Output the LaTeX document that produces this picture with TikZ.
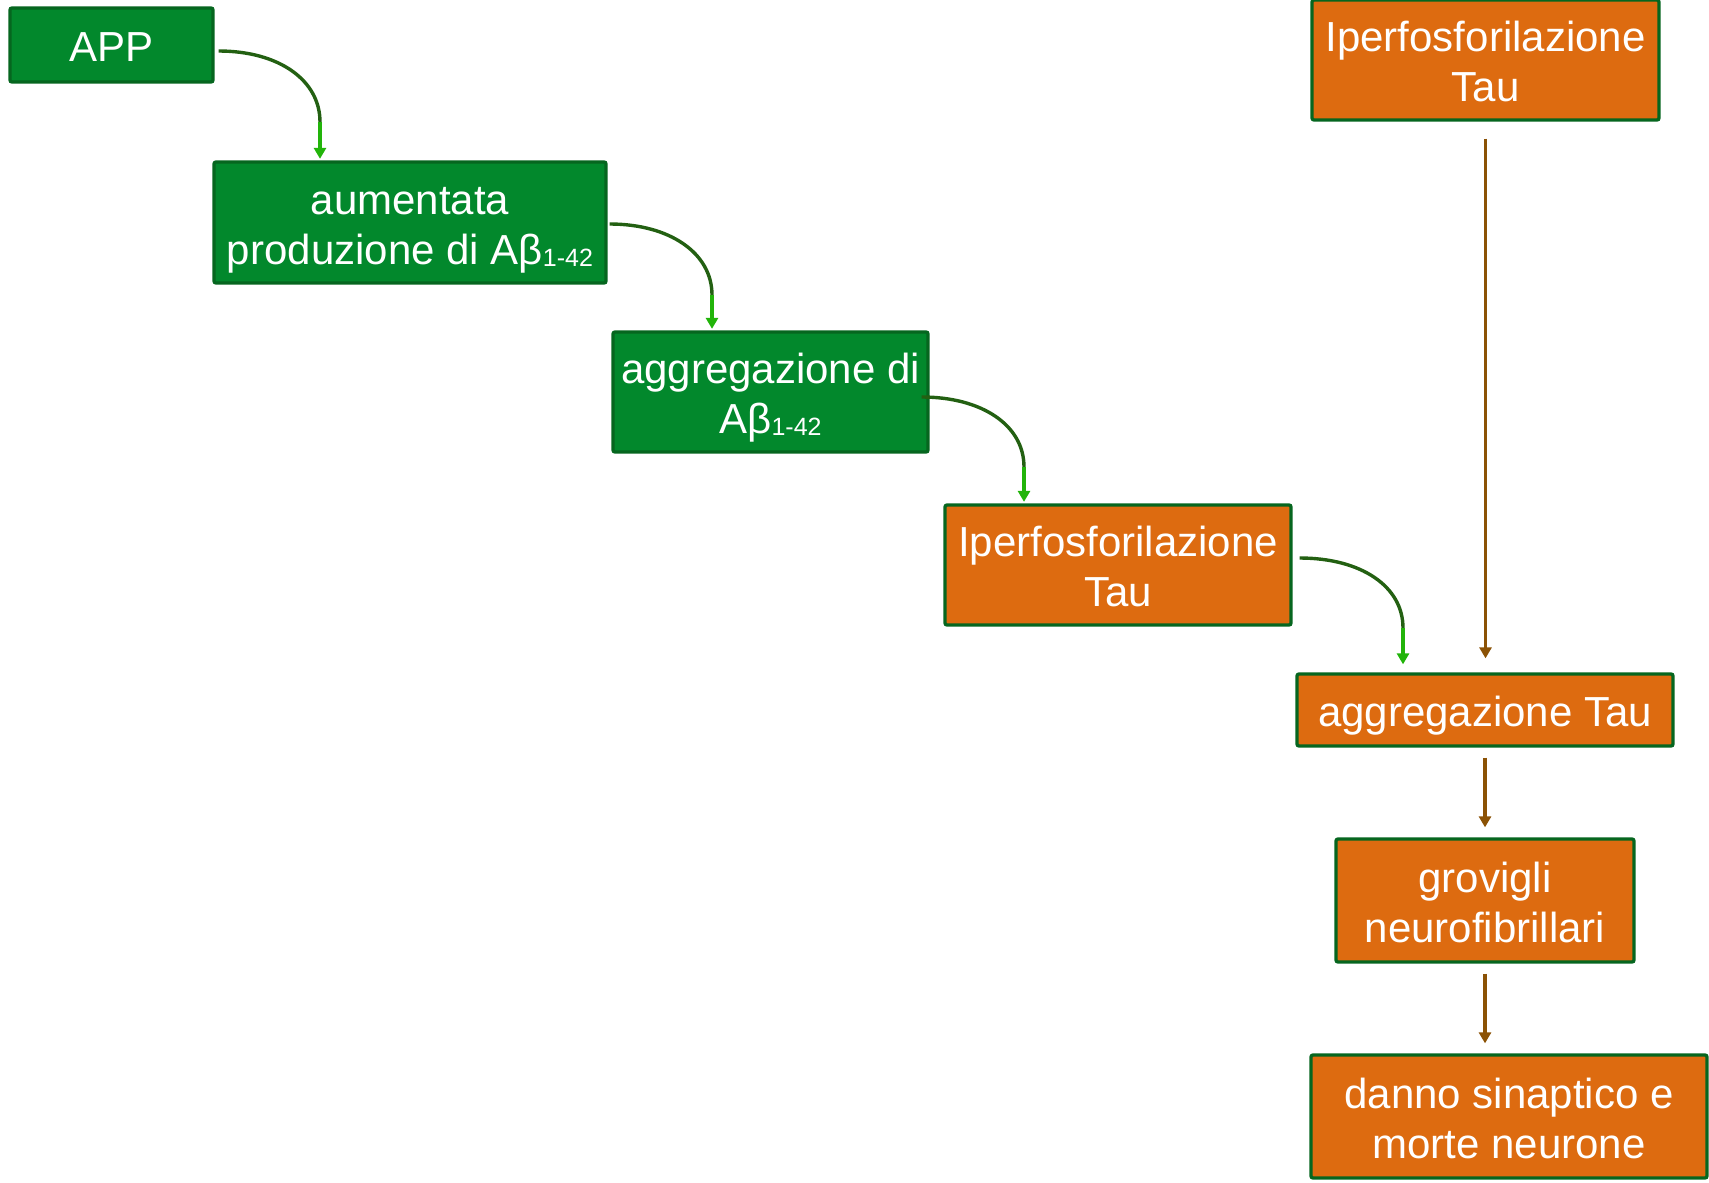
\documentclass[tikz,border=0pt]{standalone}
\usepackage{fontspec}
\setmainfont{Liberation Sans}
\usetikzlibrary{arrows.meta,calc}
\definecolor{gfill}{HTML}{02882C}
\definecolor{gborder}{HTML}{06661F}
\definecolor{ofill}{HTML}{DD6B10}
\definecolor{curvecol}{HTML}{236012}
\definecolor{tipcol}{HTML}{22B40A}
\definecolor{browncol}{HTML}{8B5205}
\newcommand{\sbt}[1]{{\fontsize{25}{25}\selectfont\raisebox{-2pt}{#1}}}
\newcommand{\hst}{\rule{0pt}{43pt}}
\newcommand{\dst}{\rule[-10pt]{0pt}{10pt}}
\tikzset{
  box/.style={draw=gborder, line width=3.3pt, rounded corners=2pt, inner sep=0pt,
    align=center, text=white, font=\fontsize{42}{50}\selectfont},
  gbox/.style={box, fill=gfill},
  obox/.style={box, fill=ofill},
  curvy/.style={draw=curvecol, line width=3.4pt},
  tipseg/.style={draw=tipcol, line width=3.4pt, -{Triangle[width=12pt,length=11pt]}},
  brownarr/.style={draw=browncol, line width=3.3pt, -{Triangle[width=12pt,length=11pt]}}
}
\begin{document}
\begin{tikzpicture}[x=1pt,y=-1pt]
\useasboundingbox (0,0) rectangle (1709,1183);
% nodes
\node[gbox, minimum width=203, minimum height=74] (app) at (111.5,45) {\hst APP\dst};
\node[gbox, minimum width=392, minimum height=121] (aum) at (410,222.5) {\hst aumentata\\produzione di Aβ\sbt{1-42}\dst};
\node[gbox, minimum width=315, minimum height=120] (agg) at (770.5,392) {\hst aggregazione di\\Aβ\sbt{1-42}\dst};
\node[obox, minimum width=346, minimum height=120] (iper1) at (1118,565) {\hst Iperfosforilazione\\Tau\dst};
\node[obox, minimum width=347, minimum height=120] (iper2) at (1485.5,60) {\hst Iperfosforilazione\\Tau\dst};
\node[obox, minimum width=376, minimum height=72] (aggtau) at (1485,710) {\hst aggregazione Tau\dst};
\node[obox, minimum width=298, minimum height=123] (grov) at (1485,900.5) {\hst grovigli\\neurofibrillari\dst};
\node[obox, minimum width=396, minimum height=123] (danno) at (1509,1116.5) {\hst danno sinaptico e\\morte neurone\dst};
% bend coordinates
\coordinate (b1) at (320,122);
\coordinate (b2) at (712,295);
\coordinate (b3) at (1024,467);
\coordinate (b4) at (1403,628);
% curved connectors
\draw[curvy] ($(app.east)+(4,6)$) .. controls +(60,0) and +(0,-42) .. (b1);
\draw[tipseg] (b1) -- ($(b1 |- aum.north)+(0,-1.5)$);
\draw[curvy] ($(aum.east)+(2,1.5)$) .. controls +(60,0) and +(0,-42) .. (b2);
\draw[tipseg] (b2) -- ($(b2 |- agg.north)+(0,-1.5)$);
\draw[curvy] ($(agg.east)+(-8,5)$) .. controls +(60,0) and +(0,-42) .. (b3);
\draw[tipseg] (b3) -- ($(b3 |- iper1.north)+(0,-1.5)$);
\draw[curvy] ($(iper1.east)+(7,-7)$) .. controls +(61,0) and +(0,-42) .. (b4);
\draw[tipseg] (b4) -- ($(b4 |- aggtau.north)+(0,-8)$);
% brown connectors
\draw[brownarr] ($(iper2.south)+(0,17)$) -- ($(iper2.south |- aggtau.north)+(0,-14)$);
\draw[brownarr] ($(aggtau.south)+(0,10)$) -- ($(grov.north)+(0,-10)$);
\draw[brownarr] ($(grov.south)+(0,10)$) -- ($(grov.south |- danno.north)+(0,-10)$);
\end{tikzpicture}
\end{document}
